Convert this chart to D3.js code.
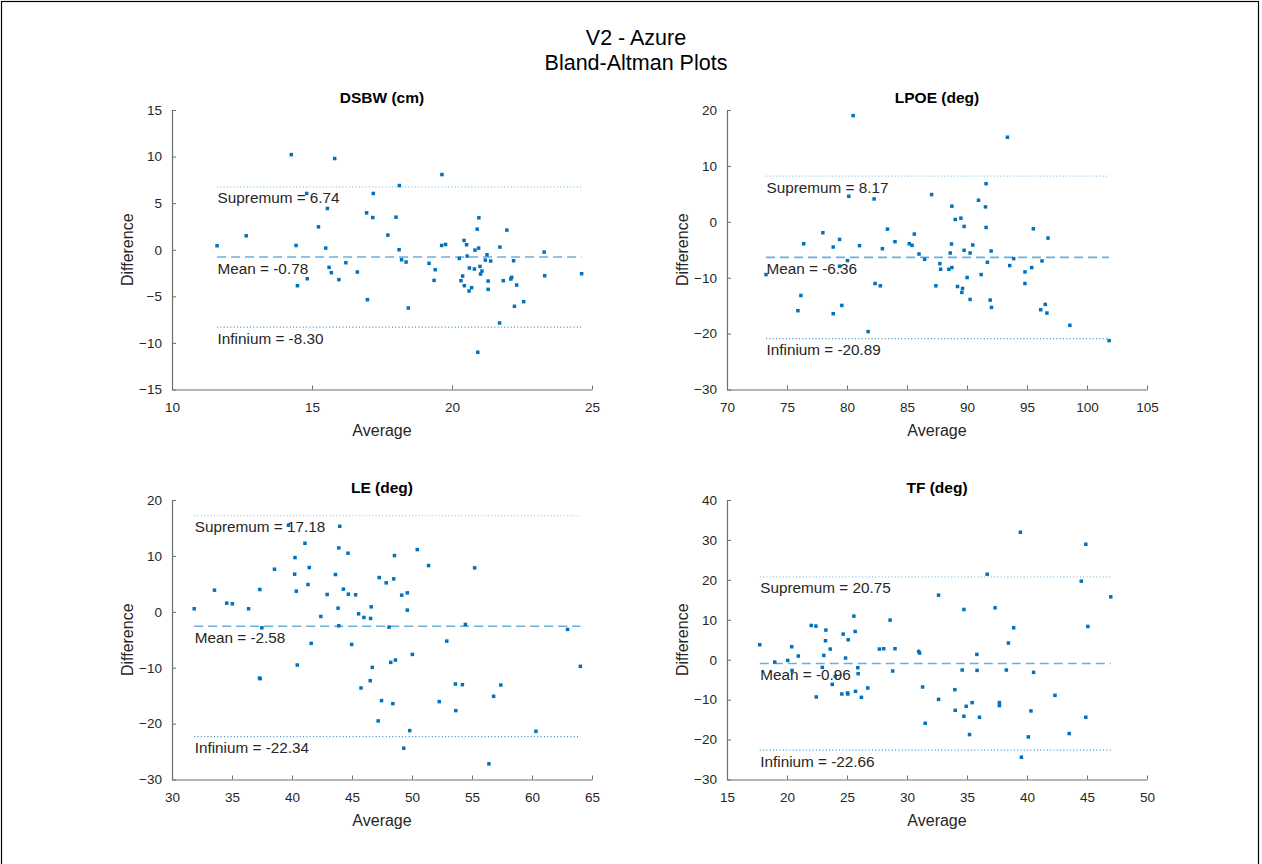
<!DOCTYPE html>
<html>
<head>
<meta charset="utf-8">
<script src="https://cdn.jsdelivr.net/npm/d3@7"></script>
<style>
  html, body { margin: 0; padding: 0; background: #fff; }
  svg { display: block; font-family: "Liberation Sans", Arial, Helvetica, sans-serif; }
</style>
</head>
<body>
<svg id="chart" width="1262" height="864"></svg>
<script>
// ---------------- DATA ----------------
const figTitle = ["V2 - Azure", "Bland-Altman Plots"];
const panelTitles = ["DSBW (cm)", "LPOE (deg)", "LE (deg)", "TF (deg)"];
const meanValues = [-0.78, -6.36, -2.58, -0.96];
const supValues = [6.74, 8.17, 17.18, 20.75];
const infValues = [-8.30, -20.89, -22.34, -22.66];

const xDomains = [[10, 25], [70, 105], [30, 65], [15, 50]];
const yDomains = [[-15, 15], [-30, 20], [-30, 20], [-30, 40]];
const xTicks = [[10, 15, 20, 25], [70, 75, 80, 85, 90, 95, 100, 105], [30, 35, 40, 45, 50, 55, 60, 65], [15, 20, 25, 30, 35, 40, 45, 50]];
const yTicks = [[-15, -10, -5, 0, 5, 10, 15], [-30, -20, -10, 0, 10, 20], [-30, -20, -10, 0, 10, 20], [-30, -20, -10, 0, 10, 20, 30, 40]];

const dsbwAvg = [11.61,12.65,14.26,14.43,14.48,14.81,14.83,15.23,15.49,15.55,15.61,15.69,15.81,15.96,16.21,16.62,16.95,16.98,17.17,17.19,17.71,18.0,18.12,18.11,18.2,18.36,18.44,19.18,19.36,19.40,19.63,19.64,19.77,20.26,20.32,20.38,20.43,20.44,20.52,20.54,20.61,20.62,20.70,20.80,20.82,20.90,20.92,20.95,20.96,21.0,21.02,21.07,21.19,21.25,21.29,21.29,21.38,21.70,21.71,21.83,21.96,22.1,22.13,22.2,22.23,22.31,22.56,23.29,23.31,24.63];
const dsbwDiff = [0.43,1.5,10.21,0.46,-3.86,6.04,-3.11,2.46,0.18,4.43,-1.89,-2.46,9.79,-3.21,-1.39,-2.39,3.96,-5.36,3.46,6.04,1.57,3.5,6.89,0.0,-1.07,-1.32,-6.25,-1.46,-3.29,-2.14,0.46,8.07,0.57,-0.93,-3.32,-2.82,1.0,-3.86,0.54,-0.68,-4.43,-1.96,-4.07,-2.07,-0.04,2.21,-11.0,0.18,3.43,-1.79,-2.61,-2.29,-1.11,-0.54,-3.36,-4.25,-1.21,-7.86,0.29,-3.32,2.11,-3.14,-2.96,-1.18,-6.07,-3.79,-5.57,-0.25,-2.79,-2.57];

const lpoeAvg = [73.25,75.91,76.16,76.39,77.99,78.85,78.85,79.38,79.57,79.38,80.04,80.15,80.51,81.04,81.76,82.26,82.34,82.78,82.95,83.37,84.0,85.19,85.42,85.61,86.0,86.47,87.05,87.41,87.74,87.80,88.49,88.6,88.71,88.74,88.74,89.02,89.21,89.49,89.57,89.63,89.76,89.76,90.01,90.26,90.26,90.48,90.96,91.18,91.54,91.59,91.59,91.70,91.93,92.01,92.04,93.37,93.56,93.89,94.83,94.83,95.39,95.53,96.14,96.25,96.52,96.66,96.75,98.57,101.84];
const lpoeDiff = [-9.44,-15.9,-13.18,-3.92,-1.96,-4.51,-16.44,-3.15,-14.96,-7.95,-6.94,4.57,18.99,-4.27,-19.64,4.09,-11.04,-11.45,-4.81,-1.31,-3.56,-3.92,-4.21,-2.2,-5.76,-6.71,4.87,-11.45,-7.48,-8.49,-8.49,-5.58,-3.98,2.79,-8.19,0.42,-11.57,0.65,-12.64,-11.93,-0.83,-5.1,-9.97,-13.89,-5.58,-4.15,3.86,-9.44,2.67,6.82,-1.01,-7.24,-14.0,-5.22,-15.31,15.13,-7.83,-6.59,-8.96,-11.04,-8.19,-1.25,-15.73,-7.0,-14.78,-16.32,-2.91,-18.52,-21.25];

const leAvg = [31.85,33.54,34.56,35.03,36.38,37.32,37.35,37.29,37.49,38.54,39.70,40.22,40.25,40.36,40.44,41.08,41.33,41.44,41.60,42.40,42.93,43.62,43.84,43.90,43.90,43.98,44.28,44.67,44.70,44.97,45.30,45.55,45.75,45.99,46.52,46.55,46.60,46.69,47.18,47.27,47.46,47.85,48.09,48.23,48.40,48.48,48.54,48.62,49.14,49.31,49.61,49.61,49.81,50.03,50.44,51.38,52.27,52.90,53.62,53.65,54.20,54.45,55.22,56.41,56.80,57.40,60.33,62.96,64.03];
const leDiff = [0.54,3.87,1.55,1.43,0.54,3.99,-11.96,-11.85,-2.86,7.62,15.48,6.73,9.70,3.69,-9.52,12.26,4.88,7.92,-5.65,-0.83,3.10,6.67,0.65,11.43,-2.5,15.30,4.05,10.48,3.15,-5.83,3.04,-0.36,-13.63,-1.01,-12.32,-1.19,0.89,-9.94,-19.52,6.13,-15.89,5.18,-2.74,-9.05,-16.43,5.89,10.06,-8.63,2.98,-24.40,3.39,0.30,-21.25,-7.62,11.13,8.27,-16.07,-5.24,-12.92,-17.68,-13.04,-2.26,7.86,-27.20,-15.12,-13.10,-21.37,-3.15,-9.76];

const tfAvg = [17.73,18.98,20.06,20.39,20.42,20.94,22.02,22.41,22.44,22.94,23.07,23.21,23.24,23.60,23.77,24.02,24.57,24.68,24.88,25.04,25.07,25.10,25.57,25.68,25.71,25.90,25.93,26.20,26.73,27.70,28.06,28.59,28.81,29.0,30.97,31.05,31.30,31.52,32.63,32.63,33.99,34.02,34.60,34.74,34.74,34.93,35.21,35.43,35.82,35.84,36.04,36.68,37.34,37.70,37.70,38.28,38.45,38.89,39.45,39.53,40.11,40.33,40.55,42.33,43.52,44.52,44.90,44.90,45.07,46.98];
const tfDiff = [3.75,-0.58,-0.17,3.25,-2.67,0.92,8.58,8.42,-9.33,-1.92,1.08,4.75,7.42,2.67,-6.17,-4.17,-8.58,6.42,0.42,-8.33,-8.58,5.0,10.92,7.08,-7.92,-2.0,-3.5,-9.42,-7.08,2.67,2.75,9.92,-2.83,2.75,2.08,1.67,-6.83,-15.92,16.17,-9.92,-7.5,-12.67,-2.58,12.58,-14.17,-11.67,-18.75,-10.75,1.33,-2.67,-14.42,21.42,13.0,-10.75,-11.5,-2.58,4.17,8.0,31.92,-24.42,-19.33,-12.83,-3.17,-8.92,-18.5,19.67,28.92,-14.42,8.33,15.75];

const avgSeries = [dsbwAvg, lpoeAvg, leAvg, tfAvg];
const diffSeries = [dsbwDiff, lpoeDiff, leDiff, tfDiff];

// ---------------- LAYOUT ----------------
const svg = d3.select("#chart");
const textColor = "#262626";
const axisColor = "#6e6e6e";
const markColor = "#0072BD";

svg.append("rect").attr("x", 1.5).attr("y", 1.5).attr("width", 1257).attr("height", 880)
  .attr("fill", "none").attr("stroke", "#000").attr("stroke-width", 1.2);

svg.append("text").attr("x", 636).attr("y", 45).attr("text-anchor", "middle")
  .attr("font-size", 21.5).attr("fill", "#000").text(figTitle[0]);
svg.append("text").attr("x", 636).attr("y", 70).attr("text-anchor", "middle")
  .attr("font-size", 21.5).attr("fill", "#000").text(figTitle[1]);

const panels = [
  {x0: 172, x1: 592, y0: 110, y1: 389.5},
  {x0: 727, x1: 1147, y0: 110, y1: 389.5},
  {x0: 172, x1: 592, y0: 500, y1: 779.5},
  {x0: 727, x1: 1147, y0: 500, y1: 779.5}
];

panels.forEach((p, i) => {
  const g = svg.append("g");
  const x = d3.scaleLinear().domain(xDomains[i]).range([p.x0, p.x1]);
  const y = d3.scaleLinear().domain(yDomains[i]).range([p.y1, p.y0]);

  const xAxis = d3.axisBottom(x).tickValues(xTicks[i]).tickSizeInner(-4).tickSizeOuter(0).tickPadding(10).tickFormat(d3.format("d"));
  const yAxis = d3.axisLeft(y).tickValues(yTicks[i]).tickSizeInner(-4).tickSizeOuter(0).tickPadding(10).tickFormat(d3.format("d"));

  const gx = g.append("g").attr("transform", `translate(0,${p.y1})`).call(xAxis);
  const gy = g.append("g").attr("transform", `translate(${p.x0},0)`).call(yAxis);
  [gx, gy].forEach(ax => {
    ax.select(".domain").attr("stroke", axisColor).attr("stroke-width", 1.2);
    ax.selectAll(".tick line").attr("stroke", axisColor).attr("stroke-width", 1);
    ax.selectAll(".tick text").attr("fill", textColor).attr("font-size", 13.5)
      .attr("font-family", "Liberation Sans, Arial, sans-serif");
  });
  gx.selectAll(".tick text").attr("dy", "0.95em");

  g.append("text").attr("x", (p.x0 + p.x1) / 2).attr("y", p.y0 - 7).attr("text-anchor", "middle")
    .attr("font-size", 15.5).attr("font-weight", "bold").attr("fill", "#000").text(panelTitles[i]);
  g.append("text").attr("x", (p.x0 + p.x1) / 2).attr("y", p.y1 + 46).attr("text-anchor", "middle")
    .attr("font-size", 16).attr("fill", textColor).text("Average");
  g.append("text").attr("transform", `translate(${p.x0 - 39},${(p.y0 + p.y1) / 2}) rotate(-90)`)
    .attr("text-anchor", "middle").attr("font-size", 16).attr("fill", textColor).text("Difference");

  const ext = d3.extent(avgSeries[i]);

  const lines = [
    {v: supValues[i], dash: "1,2.3", color: "#86c3ea", w: 1.2, label: "Supremum = " + supValues[i].toFixed(2)},
    {v: meanValues[i], dash: "9,5", color: "#6aaede", w: 1.6, label: "Mean = " + meanValues[i].toFixed(2)},
    {v: infValues[i], dash: "1,2.3", color: "#3b8fcb", w: 1.2, label: "Infinium = " + infValues[i].toFixed(2)}
  ];
  lines.forEach(l => {
    g.append("line").attr("x1", x(ext[0])).attr("x2", x(ext[1]))
      .attr("y1", y(l.v)).attr("y2", y(l.v))
      .attr("stroke", l.color).attr("stroke-width", l.w).attr("stroke-dasharray", l.dash);
  });

  g.append("g").selectAll("rect").data(avgSeries[i].map((a, k) => [a, diffSeries[i][k]]))
    .join("rect")
    .attr("x", d => x(d[0]) - 1.75).attr("y", d => y(d[1]) - 1.75)
    .attr("width", 3.5).attr("height", 3.5).attr("fill", markColor);

  lines.forEach(l => {
    g.append("text").attr("x", x(ext[0]) + 0.5).attr("y", y(l.v) + 16.5)
      .attr("font-size", 15.3).attr("fill", textColor).text(l.label);
  });
});
</script>
</body>
</html>
